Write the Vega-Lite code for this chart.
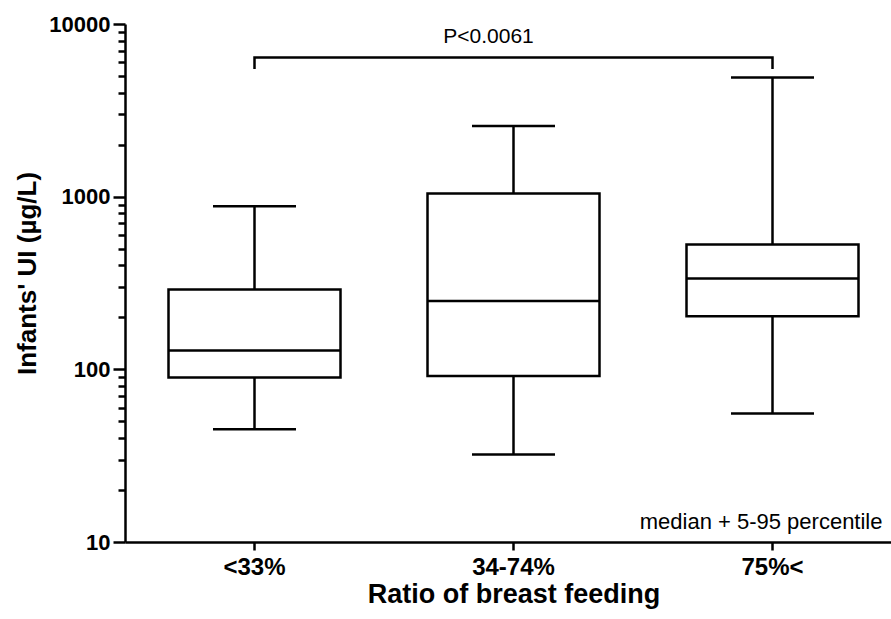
{
  "$schema": "https://vega.github.io/schema/vega-lite/v6.json",
  "width": 766,
  "height": 518,
  "autosize": {"type": "none"},
  "padding": {"left": 125, "top": 24, "right": 0, "bottom": 77},
  "background": "white",
  "config": {"view": {"stroke": null}, "font": "Liberation Sans"},
  "datasets": {
    "boxes": [
      {"group": "<33%", "low": 45, "q1": 89.6, "median": 128.5, "q3": 290, "high": 881},
      {"group": "34-74%", "low": 32.1, "q1": 91.6, "median": 249, "q3": 1044, "high": 2570},
      {"group": "75%<", "low": 55.5, "q1": 203, "median": 336, "q3": 528, "high": 4900}
    ],
    "bracket": [
      {"group": "<33%", "y": 5480, "o": 1},
      {"group": "<33%", "y": 6400, "o": 2},
      {"group": "75%<", "y": 6400, "o": 3},
      {"group": "75%<", "y": 5480, "o": 4}
    ],
    "notes": [
      {"group": "34-74%", "y": 8400, "label": "P<0.0061"}
    ],
    "legendnote": [
      {"group": "75%<", "y": 13, "label": "median + 5-95 percentile"}
    ]
  },
  "layer": [
    {
      "data": {"name": "boxes"},
      "mark": {"type": "rule", "color": "black", "strokeWidth": 2.5},
      "encoding": {
        "x": {
          "field": "group", "type": "nominal",
          "sort": ["<33%", "34-74%", "75%<"],
          "scale": {"type": "band", "domain": ["<33%", "34-74%", "75%<"], "range": [0, 777], "paddingInner": 0, "paddingOuter": 0},
          "axis": {
            "title": "Ratio of breast feeding",
            "titleFontSize": 27, "titleFontWeight": "bold", "titleColor": "black", "titlePadding": 2,
            "labelFontSize": 24, "labelFontWeight": "bold", "labelColor": "black", "labelAngle": 0, "labelPadding": 5,
            "domainColor": "black", "domainWidth": 2.5,
            "tickColor": "black", "tickWidth": 2.5, "tickSize": 8,
            "grid": false
          }
        },
        "y": {
          "field": "low", "type": "quantitative",
          "title": "Infants' UI (µg/L)",
          "scale": {"type": "log", "domain": [10, 10000], "nice": false},
          "axis": {
            "values": [10, 20, 30, 40, 50, 60, 70, 80, 90, 100, 200, 300, 400, 500, 600, 700, 800, 900, 1000, 2000, 3000, 4000, 5000, 6000, 7000, 8000, 9000, 10000],
            "format": "d",
            "labelExpr": "(datum.value == 10 || datum.value == 100 || datum.value == 1000 || datum.value == 10000) ? datum.label : ''",
            "tickSize": {"condition": {"test": "datum.value == 10 || datum.value == 100 || datum.value == 1000 || datum.value == 10000", "value": 12}, "value": 7},
            "labelFontSize": 22, "labelFontWeight": "bold", "labelColor": "black", "labelPadding": 3,
            "titleFontSize": 26, "titleFontWeight": "bold", "titleColor": "black", "titlePadding": 8, "titleY": 249,
            "domainColor": "black", "domainWidth": 2.5,
            "tickColor": "black", "tickWidth": 2.5,
            "grid": false
          }
        },
        "y2": {"field": "high"}
      }
    },
    {
      "data": {"name": "boxes"},
      "mark": {"type": "bar", "size": 172, "fill": "white", "stroke": "black", "strokeWidth": 2.5},
      "encoding": {
        "x": {"field": "group", "type": "nominal"},
        "y": {"field": "q1", "type": "quantitative", "title": "Infants' UI (µg/L)"},
        "y2": {"field": "q3"}
      }
    },
    {
      "data": {"name": "boxes"},
      "mark": {"type": "tick", "size": 172, "thickness": 2.5, "color": "black", "opacity": 1},
      "encoding": {
        "x": {"field": "group", "type": "nominal"},
        "y": {"field": "median", "type": "quantitative", "title": "Infants' UI (µg/L)"}
      }
    },
    {
      "data": {"name": "boxes"},
      "mark": {"type": "tick", "size": 83, "thickness": 2.5, "color": "black", "opacity": 1},
      "encoding": {
        "x": {"field": "group", "type": "nominal"},
        "y": {"field": "low", "type": "quantitative", "title": "Infants' UI (µg/L)"}
      }
    },
    {
      "data": {"name": "boxes"},
      "mark": {"type": "tick", "size": 83, "thickness": 2.5, "color": "black", "opacity": 1},
      "encoding": {
        "x": {"field": "group", "type": "nominal"},
        "y": {"field": "high", "type": "quantitative", "title": "Infants' UI (µg/L)"}
      }
    },
    {
      "data": {"name": "bracket"},
      "mark": {"type": "line", "color": "black", "strokeWidth": 2.5},
      "encoding": {
        "x": {"field": "group", "type": "nominal"},
        "y": {"field": "y", "type": "quantitative", "title": "Infants' UI (µg/L)"},
        "order": {"field": "o", "type": "quantitative"}
      }
    },
    {
      "data": {"name": "notes"},
      "mark": {"type": "text", "fontSize": 21, "color": "black", "dx": -25, "baseline": "middle"},
      "encoding": {
        "x": {"field": "group", "type": "nominal"},
        "y": {"field": "y", "type": "quantitative", "title": "Infants' UI (µg/L)"},
        "text": {"field": "label"}
      }
    },
    {
      "data": {"name": "legendnote"},
      "mark": {"type": "text", "fontSize": 22, "color": "black", "dx": 110, "align": "right", "baseline": "middle"},
      "encoding": {
        "x": {"field": "group", "type": "nominal"},
        "y": {"field": "y", "type": "quantitative", "title": "Infants' UI (µg/L)"},
        "text": {"field": "label"}
      }
    }
  ]
}
